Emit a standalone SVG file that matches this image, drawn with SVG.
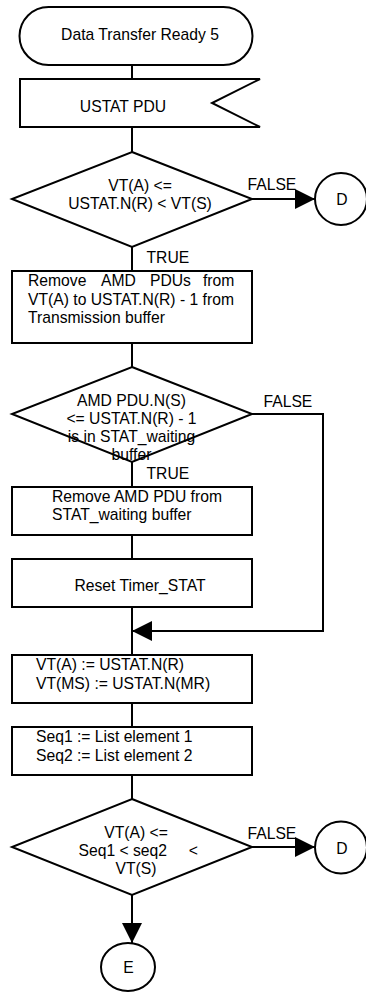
<svg xmlns="http://www.w3.org/2000/svg" width="366" height="992" viewBox="0 0 366 992">
<style>
.s{fill:#fff;stroke:#000;stroke-width:2}
.c{fill:none;stroke:#000;stroke-width:2}
.t{font-family:"Liberation Sans",Arial,sans-serif;font-size:15.7px;fill:#000}
.m{text-anchor:middle}
</style>
<defs>
<marker id="arr" markerUnits="userSpaceOnUse" markerWidth="21" markerHeight="21" refX="20" refY="10" orient="auto">
<path d="M0,0 L20,10 L0,20 Z" fill="#000"/>
</marker>
</defs>
<rect width="366" height="992" fill="#fff"/>
<g id="start">
<rect class="s" x="19.5" y="7" width="233" height="58" rx="29" ry="29"/>
<text class="t m" x="140" y="39.5">Data Transfer Ready 5</text>
</g>
<g id="ustat">
<path class="s" d="M20,79 L260,79 L212,103 L260,127 L20,127 Z"/>
<text class="t m" x="123" y="111.5">USTAT PDU</text>
</g>
<g id="dec1">
<path class="s" d="M132,152 L252,199 L132,247 L12,199 Z"/>
<text class="t m" x="140" y="190.5">VT(A) &lt;=</text>
<text class="t m" x="140" y="209">USTAT.N(R) &lt; VT(S)</text>
</g>
<g id="d1">
<circle class="s" cx="341" cy="199" r="26"/>
<text class="t m" x="342" y="205">D</text>
</g>
<g id="remove1">
<rect class="s" x="12" y="271" width="240" height="72"/>
<text class="t" y="286"><tspan x="28">Remove</tspan><tspan x="101">AMD</tspan><tspan x="150">PDUs</tspan><tspan x="203">from</tspan></text>
<text class="t" x="28" y="304.5">VT(A) to USTAT.N(R) - 1 from</text>
<text class="t" x="28" y="323">Transmission buffer</text>
</g>
<g id="dec2">
<path class="s" d="M132,367 L252,414 L132,462 L12,414 Z"/>
<text class="t m" x="131.5" y="405.5">AMD PDU.N(S)</text>
<text class="t m" x="131.5" y="423.5">&lt;= USTAT.N(R) - 1</text>
<text class="t m" x="131.5" y="441.5">is in STAT_waiting</text>
<text class="t m" x="131.5" y="459.5">buffer</text>
</g>
<g id="remove2">
<rect class="s" x="12" y="487" width="240" height="48"/>
<text class="t" x="52" y="501.5">Remove AMD PDU from</text>
<text class="t" x="52" y="520">STAT_waiting buffer</text>
</g>
<g id="reset">
<rect class="s" x="12" y="559" width="240" height="48"/>
<text class="t m" x="140" y="591">Reset Timer_STAT</text>
</g>
<g id="assign">
<rect class="s" x="12" y="655" width="240" height="48"/>
<text class="t" x="36" y="670">VT(A) := USTAT.N(R)</text>
<text class="t" x="36" y="689">VT(MS) := USTAT.N(MR)</text>
</g>
<g id="seq">
<rect class="s" x="12" y="727" width="240" height="48"/>
<text class="t" x="36" y="742">Seq1 := List element 1</text>
<text class="t" x="36" y="761">Seq2 := List element 2</text>
</g>
<g id="dec3">
<path class="s" d="M132,799 L252,847 L132,895 L12,847 Z"/>
<text class="t m" x="136" y="837.5">VT(A) &lt;=</text>
<text class="t" x="78.5" y="855.5" xml:space="preserve" style="white-space:pre">Seq1 &lt; seq2     &lt;</text>
<text class="t m" x="136" y="874">VT(S)</text>
</g>
<g id="d2">
<circle class="s" cx="341" cy="847.5" r="26"/>
<text class="t m" x="342" y="853.5">D</text>
</g>
<g id="e">
<ellipse class="s" cx="128" cy="967" rx="27" ry="24"/>
<text class="t m" x="128.5" y="973">E</text>
</g>
<g id="connectors">
<line class="c" x1="132" y1="65" x2="132" y2="79"/>
<line class="c" x1="132" y1="127" x2="132" y2="152"/>
<line class="c" x1="252" y1="199" x2="315" y2="199" marker-end="url(#arr)"/>
<line class="c" x1="132" y1="247" x2="132" y2="271"/>
<line class="c" x1="132" y1="343" x2="132" y2="367"/>
<polyline class="c" points="252,414 323,414 323,631 132,631" marker-end="url(#arr)"/>
<line class="c" x1="132" y1="462" x2="132" y2="487"/>
<line class="c" x1="132" y1="535" x2="132" y2="559"/>
<line class="c" x1="132" y1="607" x2="132" y2="655"/>
<line class="c" x1="132" y1="703" x2="132" y2="727"/>
<line class="c" x1="132" y1="775" x2="132" y2="799"/>
<line class="c" x1="252" y1="847" x2="315" y2="847" marker-end="url(#arr)"/>
<line class="c" x1="132" y1="895" x2="132" y2="943" marker-end="url(#arr)"/>
<text class="t" x="247.5" y="190">FALSE</text>
<text class="t" x="146.5" y="262.5">TRUE</text>
<text class="t" x="263.5" y="406.5">FALSE</text>
<text class="t" x="146.5" y="478.5">TRUE</text>
<text class="t" x="247.5" y="838.5">FALSE</text>
</g>
</svg>
